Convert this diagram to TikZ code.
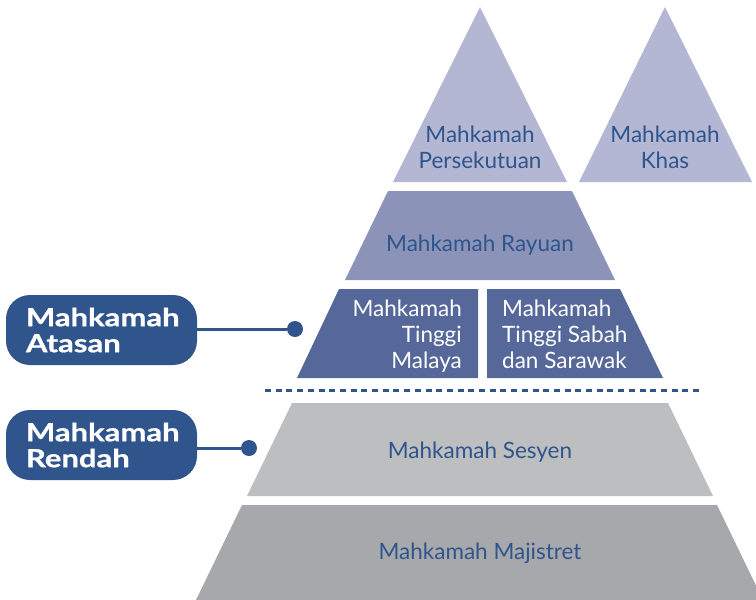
\documentclass[tikz,border=0pt]{standalone}
\usepackage{fontspec}
\setmainfont{Lato}
\newfontfamily\grpfont{Lato}[FakeStretch=1.24, BoldFeatures={FakeBold=0.8}]
\usetikzlibrary{positioning}

\definecolor{courtblue}{HTML}{2F558C}
\definecolor{apexfill}{HTML}{B3B7D3}
\definecolor{rayuanfill}{HTML}{8B93B8}
\definecolor{tinggifill}{HTML}{56689A}
\definecolor{sesyenfill}{HTML}{BDBEC0}
\definecolor{majisfill}{HTML}{A7A8AC}

\tikzset{
  tiertext/.style={text=courtblue, font=\fontsize{22.5}{26}\selectfont, inner sep=0pt, anchor=base, align=center},
  groupbox/.style={fill=courtblue, text=white, rounded corners=24pt, minimum width=191pt, minimum height=70pt,
    text width=151pt, align=left, inner sep=0pt, font=\grpfont\bfseries\fontsize{25}{26}\selectfont},
  leader/.style={courtblue, line width=3pt},
  leaderdot/.style={circle, fill=courtblue, minimum size=16pt, inner sep=0pt}
}

\begin{document}
\begin{tikzpicture}[x=1pt, y=-1pt]
  \useasboundingbox (0,0) rectangle (756,600);
  \clip (0,0) rectangle (756,600);

  % the two triangles on top
  \fill[apexfill] (480,7) -- (567,182) -- (393,182) -- cycle;
  \fill[apexfill] (665,7) -- (752,182) -- (579,182) -- cycle;
  \node[tiertext] (persekutuan) at (480,168) {Mahkamah\\Persekutuan};
  \node[tiertext] (khas) at (665,168) {Mahkamah\\Khas};

  % appeal tier
  \fill[rayuanfill] (388,191) -- (572,191) -- (615,280) -- (345,280) -- cycle;
  \node[tiertext] (rayuan) at (480,251) {Mahkamah Rayuan};

  % the two high courts
  \fill[tinggifill] (339,289) -- (478,289) -- (478,378) -- (297,378) -- cycle;
  \fill[tinggifill] (487,289) -- (620,289) -- (663,378) -- (487,378) -- cycle;
  \node[tiertext, text=white, align=right, anchor=base east] (malaya) at (462,368) {Mahkamah\\Tinggi\\Malaya};
  \node[tiertext, text=white, align=left, anchor=base west] (sabah) at (502,368) {Mahkamah\\Tinggi Sabah\\dan Sarawak};

  % split between upper and lower courts
  \draw[courtblue, line width=3pt, dash pattern=on 6pt off 4.7pt] (265,390) -- (703,390);

  % lower courts
  \fill[sesyenfill] (292,403) -- (668,403) -- (713,496) -- (247,496) -- cycle;
  \node[tiertext] (sesyen) at (480,458) {Mahkamah Sesyen};
  \fill[majisfill] (242,505) -- (717,505) -- (763,600) -- (196,600) -- cycle;
  \node[tiertext] (majistret) at (480,559) {Mahkamah Majistret};

  % group labels on the left
  \node[groupbox] (atasan) at (101.5,330) {Mahkamah\\Atasan};
  \node[groupbox] (rendah) at (101.5,445) {Mahkamah\\Rendah};
  \node[leaderdot] (adot) at (295,329) {};
  \node[leaderdot] (rdot) at (249,448) {};
  \draw[leader] (adot) -- (adot -| atasan.east);
  \draw[leader] (rdot) -- (rdot -| rendah.east);
\end{tikzpicture}
\end{document}
